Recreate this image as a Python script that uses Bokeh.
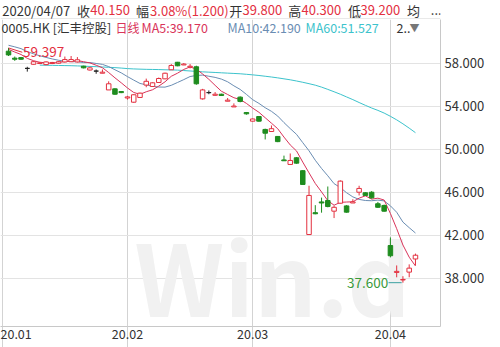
import numpy as np
import pandas as pd
from bokeh.plotting import figure
from bokeh.layouts import column
from bokeh.models import (ColumnDataSource, Range1d, FixedTicker, PrintfTickFormatter, Label, Span)
from bokeh.embed import file_html
from bokeh.resources import INLINE

# ---------------- data ----------------
# 0005.HK daily candles, 2020-01-03 .. 2020-04-07
opens = [59.10, 58.45, 58.50, 57.50, 57.88, 57.95, 57.85, 57.95, 57.98, 58.10,
         58.12, 58.10, 57.70, 57.35, 57.25, 57.05, 55.50, 55.60, 55.35, 54.75,
         54.36, 54.80, 55.95, 55.82, 56.19, 56.53, 57.37, 58.07, 57.82, 57.62,
         57.65, 54.67, 55.25, 55.00, 55.10, 54.45, 53.92, 54.83, 53.40, 52.60,
         53.03, 51.83, 51.64, 51.18, 49.00, 48.58, 49.20, 48.00, 42.07, 44.10,
         45.10, 45.23, 44.24, 44.98, 44.73, 45.00, 46.00, 45.95, 46.00, 44.93,
         44.77, 41.05, 38.55, 37.85, 38.58, 39.80]
highs = [59.397, 58.60, 58.55, 57.65, 58.20, 58.10, 58.15, 58.10, 58.20, 58.60,
         58.65, 58.55, 57.75, 57.65, 57.40, 57.40, 56.30, 55.65, 55.40, 54.95,
         55.10, 55.25, 56.55, 56.20, 56.65, 57.10, 57.90, 58.10, 58.00, 57.90,
         57.75, 55.60, 55.45, 55.30, 55.15, 54.75, 54.25, 54.90, 53.45, 52.85,
         53.05, 51.90, 52.20, 51.20, 49.40, 49.60, 49.25, 48.05, 46.60, 44.80,
         45.50, 46.53, 44.75, 47.10, 44.80, 45.35, 46.60, 46.00, 46.10, 45.10,
         44.85, 41.80, 39.20, 38.20, 39.30, 40.30]
lows = [58.65, 58.20, 58.30, 57.20, 57.85, 57.90, 57.80, 57.90, 57.95, 58.05,
        58.10, 58.05, 57.50, 57.30, 57.00, 57.05, 55.50, 55.05, 55.20, 54.60,
        54.30, 54.75, 55.75, 55.80, 56.15, 56.50, 57.35, 57.70, 57.80, 57.50,
        55.98, 54.60, 55.10, 54.95, 54.95, 54.45, 53.92, 54.35, 53.20, 52.55,
        52.55, 50.90, 51.60, 50.65, 48.90, 48.55, 48.65, 46.70, 42.05, 43.95,
        44.10, 44.60, 43.60, 44.95, 44.10, 45.00, 45.70, 45.65, 45.40, 44.55,
        44.20, 39.95, 38.10, 37.60, 38.10, 39.20]
closes = [58.75, 58.35, 58.35, 57.50, 58.12, 58.02, 58.10, 58.05, 58.12, 58.32,
          58.32, 58.30, 57.55, 57.55, 57.25, 57.15, 56.07, 55.10, 55.25, 54.85,
          55.05, 55.20, 56.30, 56.16, 56.56, 57.05, 57.77, 57.74, 57.90, 57.70,
          56.07, 55.50, 55.25, 55.10, 54.98, 54.55, 54.00, 54.43, 53.28, 52.80,
          52.60, 51.48, 51.90, 50.70, 48.92, 48.95, 48.70, 46.72, 45.70, 44.00,
          45.00, 44.67, 44.60, 47.03, 44.15, 45.10, 46.35, 45.70, 45.48, 44.60,
          44.24, 40.10, 38.65, 37.90, 38.95, 40.15]
# closes of the days just before the window (warm-up for MA5 / MA10)
prior_closes = [59.8, 60.0, 60.3, 60.1, 59.9, 59.6, 59.5, 59.3, 59.2]
# MA60 as drawn (visible from the 6th candle on)
ma60_first = 5
ma60_values = [57.80, 57.79, 57.78, 57.77, 57.76, 57.75, 57.73, 57.71, 57.68, 57.66,
               57.63, 57.60, 57.57, 57.53, 57.48, 57.45, 57.43, 57.41, 57.40, 57.39,
               57.37, 57.36, 57.34, 57.30, 57.26, 57.22, 57.18, 57.15, 57.12, 57.09,
               57.06, 57.03, 57.00, 56.95, 56.90, 56.84, 56.77, 56.70, 56.62, 56.53,
               56.44, 56.33, 56.21, 56.08, 55.94, 55.76, 55.55, 55.33, 55.10, 54.85,
               54.60, 54.33, 54.07, 53.82, 53.60, 53.35, 53.05, 52.72, 52.35, 51.95,
               51.53]
month_labels = ["20.01", "20.02", "20.03", "20.04"]
month_start_index = [-1, 19, 39, 61]
price_ticks = [38, 42, 46, 50, 54, 58]

# ---------------- styling ----------------
RED = "#e3303f"
GREEN = "#1e8c1e"
BLACK = "#222222"
MA5_C = "#d9345a"
MA10_C = "#6a8db3"
MA60_C = "#3cc3cc"
TXT = "#333333"
FONT = "Noto Sans CJK SC"
LINE = "#d3d3d3"

W, H = 500, 347
HEAD_H = 19
MAIN_H = H - HEAD_H
BOTTOM, RIGHT = 21, 60
FRAME_BOTTOM = MAIN_H - BOTTOM
Y_LO, Y_HI = 33.53, 62.04

# ---------------- header strip (first row) ----------------
head_fig = figure(width=W, height=HEAD_H, output_backend="svg", toolbar_location=None,
                  x_range=Range1d(0, W), y_range=Range1d(HEAD_H, 0),
                  x_axis_type=None, y_axis_type=None, min_border=0)
head_fig.grid.visible = False
head_fig.outline_line_color = None
head_fig.background_fill_color = "white"
head_fig.border_fill_color = "white"
head_fig.add_layout(Span(location=HEAD_H - 0.5, dimension="width", line_color=LINE, line_width=1))

def head1(x, text, col):
    head_fig.add_layout(Label(x=x, y=9.5, text=text, text_font=FONT, text_font_size="13px",
                              text_color=col, text_baseline="middle"))

head1(2, "2020/04/07", TXT)
head1(87, "收", TXT)
head1(102, "40.150", RED)
head1(154, "幅", TXT)
head1(170, "3.08%(1.200)", RED)
head1(260, "开", TXT)
head1(275, "39.800", RED)
head1(327, "高", TXT)
head1(342, "40.300", RED)
head1(395, "低", TXT)
head1(409, "39.200", RED)
head1(462, "均", TXT)
head1(489, "...", TXT)

# ---------------- main chart ----------------
n = len(closes)
idx = list(range(n))
color, fill, top, bot = [], [], [], []
for o, c in zip(opens, closes):
    if c > o:
        color.append(RED); fill.append("white")
    elif c < o:
        color.append(GREEN); fill.append(GREEN)
    else:
        color.append(BLACK); fill.append(BLACK)
    top.append(max(o, c)); bot.append(min(o, c))

src = ColumnDataSource(dict(idx=idx, high=highs, low=lows, top=top, bot=bot,
                            color=color, fill=fill))

allc = pd.Series(prior_closes + closes)
ma5 = allc.rolling(5).mean().tolist()[len(prior_closes):]
ma10 = allc.rolling(10).mean().tolist()[len(prior_closes):]

p = figure(width=W, height=MAIN_H, output_backend="svg", toolbar_location=None,
           x_range=Range1d(-1.28, 69.0), y_range=Range1d(Y_LO, Y_HI),
           y_axis_location="right",
           min_border_left=0, min_border_right=RIGHT,
           min_border_top=0, min_border_bottom=BOTTOM)
p.background_fill_color = "white"
p.border_fill_color = "white"
p.outline_line_color = None

# watermark
p.add_layout(Label(x=134, y=FRAME_BOTTOM - (273 - HEAD_H), x_units="screen", y_units="screen",
                   text="Win.d", text_font=FONT, text_font_style="bold",
                   text_font_size="98px", text_color="#f1f1f1",
                   text_baseline="alphabetic", level="underlay"))

# axes
p.xaxis.ticker = FixedTicker(ticks=month_start_index)
p.xaxis.major_label_overrides = {k: s for k, s in zip(month_start_index, month_labels)}
p.xaxis.major_label_text_align = "left"
p.xaxis.major_label_text_font = FONT
p.xaxis.major_label_text_font_size = "12.5px"
p.xaxis.major_label_text_color = TXT
p.xaxis.major_tick_in = 0
p.xaxis.major_tick_out = 21
p.xaxis.major_tick_line_color = LINE
p.xaxis.major_label_standoff = -19
p.xaxis.minor_tick_line_color = None
p.xaxis.axis_line_color = "#c8c8c8"

p.yaxis.ticker = FixedTicker(ticks=price_ticks)
p.yaxis.formatter = PrintfTickFormatter(format="%.3f")
p.yaxis.major_label_text_font = FONT
p.yaxis.major_label_text_font_size = "13px"
p.yaxis.major_label_text_color = TXT
p.yaxis.major_tick_in = 0
p.yaxis.major_tick_out = 0
p.yaxis.major_label_standoff = 4
p.yaxis.minor_tick_line_color = None
p.yaxis.axis_line_color = "#c8c8c8"

p.xgrid.ticker = FixedTicker(ticks=month_start_index)
p.xgrid.grid_line_color = LINE
p.ygrid.ticker = FixedTicker(ticks=price_ticks)
p.ygrid.grid_line_color = "#e3e3e3"

# moving averages
p.line(idx[ma60_first:], ma60_values, line_color=MA60_C, line_width=1)
p.line(idx, ma10, line_color=MA10_C, line_width=1)
p.line(idx, ma5, line_color=MA5_C, line_width=1)

# candles
p.segment(x0="idx", y0="high", x1="idx", y1="low", line_color="color", line_width=1, source=src)
p.vbar(x="idx", width=0.72, top="top", bottom="bot", fill_color="fill",
       line_color="color", line_width=1, source=src)

# high / low markers
hi_i = int(np.argmax(highs)); hi_v = highs[hi_i]
lo_i = int(np.argmin(lows)); lo_v = lows[lo_i]
p.segment(x0=[hi_i], y0=[hi_v], x1=[hi_i + 2.2], y1=[hi_v - 0.4], line_color=RED, line_width=1)
p.add_layout(Label(x=hi_i + 2.3, y=hi_v - 0.42, text=f"{hi_v:.3f}", text_font=FONT,
                   text_font_size="13.5px", text_color=RED, text_baseline="middle"))
p.segment(x0=[lo_i - 2.3], y0=[lo_v], x1=[lo_i - 0.2], y1=[lo_v], line_color="#3aa0a0", line_width=1)
p.add_layout(Label(x=lo_i - 2.35, y=lo_v, text=f"{lo_v:.3f}", text_font=FONT,
                   text_font_size="13.5px", text_color="#3a9a3a", text_align="right",
                   text_baseline="middle"))

# second header row (drawn over the top of the chart area)
def head2(x, text, col, size="12.5px"):
    p.add_layout(Label(x=x, y=FRAME_BOTTOM - (27 - HEAD_H), x_units="screen", y_units="screen",
                       text=text, text_font=FONT, text_font_size=size, text_color=col,
                       text_baseline="middle"))

head2(1, "0005.HK [汇丰控股]", TXT)
head2(115, "日线", MA5_C, "12px")
head2(141, "MA5:39.170", MA5_C)
head2(227, "MA10:42.190", MA10_C)
head2(305, "MA60:51.527", MA60_C)
head2(396, "2..", TXT)
head2(409, "▼", "#777777", "10px")

layout = column(head_fig, p, spacing=0)
open("out.html", "w").write(file_html(layout, INLINE))
